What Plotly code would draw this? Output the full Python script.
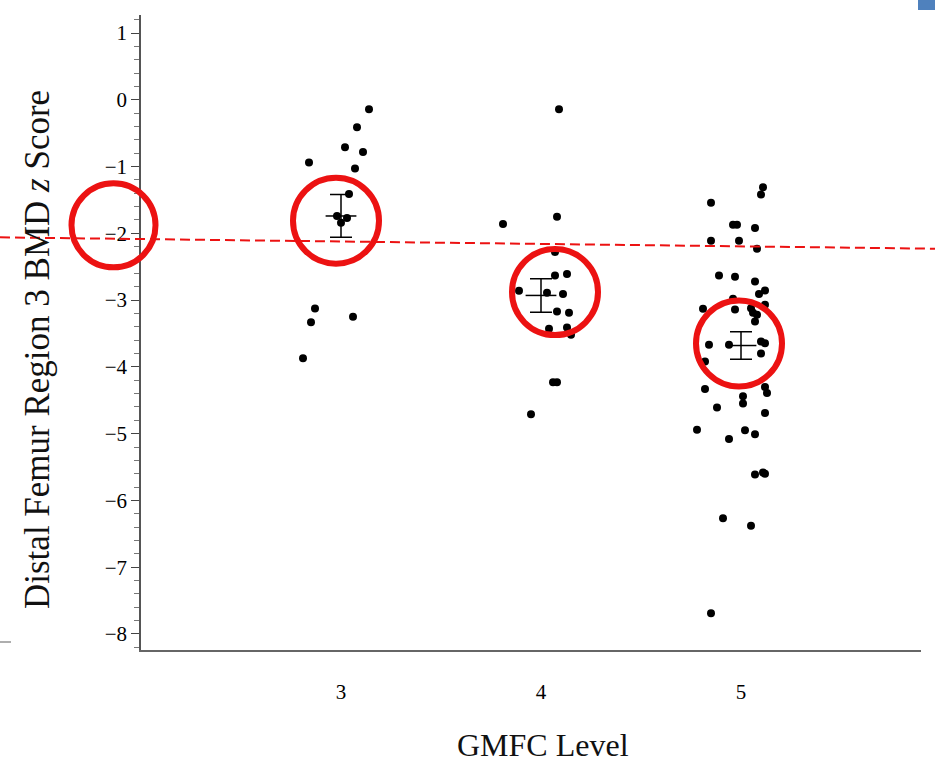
import plotly.graph_objects as go

# ---- data: distal femur region 3 BMD z scores by GMFC level (jittered x) ----
gmfc3_x = [3.14, 3.08, 3.02, 3.11, 2.84, 3.07, 3.04, 2.98, 3.00, 3.03, 2.87, 2.85, 3.06, 2.81]
gmfc3_z = [-0.14, -0.41, -0.71, -0.78, -0.94, -1.03, -1.41, -1.74, -1.84, -1.77, -3.125, -3.33, -3.25, -3.87]

gmfc4_x = [4.09, 4.08, 3.81, 4.07, 4.07, 4.13, 3.89, 4.03, 4.11, 4.08, 4.14, 4.04, 4.13, 4.15, 4.06, 4.08, 3.95]
gmfc4_z = [-0.14, -1.75, -1.86, -2.28, -2.63, -2.61, -2.86, -2.89, -2.91, -3.17, -3.19, -3.43, -3.41, -3.52,
           -4.23, -4.23, -4.71]

gmfc5_x = [5.11, 5.10, 4.85, 4.96, 4.98, 5.07, 4.85, 4.99, 5.08, 4.89, 4.97, 5.07, 5.12, 5.09, 4.96,
           5.12, 4.81, 4.97, 5.05, 5.06, 5.08, 5.07, 4.84, 4.94, 5.10, 5.12, 5.10, 4.82, 4.82, 5.12,
           5.13, 5.01, 5.01, 4.88, 5.12, 4.78, 4.94, 5.02, 5.07, 5.07, 5.11, 5.12, 4.91, 5.05, 4.85]
gmfc5_z = [-1.31, -1.42, -1.54, -1.87, -1.87, -1.92, -2.11, -2.11, -2.23, -2.63, -2.65, -2.72, -2.855, -2.91, -2.98,
           -3.07, -3.13, -3.14, -3.12, -3.19, -3.22, -3.32, -3.67, -3.67, -3.62, -3.645, -3.80, -3.92, -4.33, -4.30,
           -4.39, -4.44, -4.55, -4.61, -4.69, -4.94, -5.08, -4.95, -5.01, -5.61, -5.58, -5.60, -6.265, -6.38, -7.69]

levels = [3, 4, 5]
level_labels = ["3", "4", "5"]
group_mean = [-1.74, -2.93, -3.68]
group_se = [0.32, 0.25, 0.205]

# hand-drawn overlay: highlighted spots (x level, z) and sloped reference line near z = -2
highlight_x = [2.975, 4.07, 4.99]
highlight_z = [-1.81, -2.88, -3.65]
axis_highlight_z = -1.88
ref_line_z = [-2.06, -2.23]

y_ticks = [1, 0, -1, -2, -3, -4, -5, -6, -7, -8]

# ---- layout geometry (pixels) ----
W, H = 935, 764
L, R, T, B = 141, 14, 15, 114
PW, PH = W - L - R, H - T - B


def px_x(px):
    return (px - L) / PW


def px_y(py):
    return (H - B - py) / PH


RED = "#ec1212"
SERIF = "Liberation Serif"

fig = go.Figure()

for xs, zs in [(gmfc3_x, gmfc3_z), (gmfc4_x, gmfc4_z), (gmfc5_x, gmfc5_z)]:
    fig.add_trace(go.Scatter(
        x=xs, y=zs, mode="markers",
        marker=dict(color="black", size=8, line=dict(width=0)),
        hoverinfo="x+y",
    ))

# group means with standard-error bars
fig.add_trace(go.Scatter(
    x=levels, y=group_mean, mode="markers",
    marker=dict(symbol="line-ew", size=22, color="black", line=dict(width=1.5, color="black")),
    error_y=dict(type="data", array=group_se, visible=True, width=11, thickness=1.5, color="black"),
))

shapes = []
# red dashed line across the whole page
shapes.append(dict(type="line", xref="paper", yref="y",
                   x0=px_x(0), x1=px_x(W), y0=ref_line_z[0], y1=ref_line_z[1],
                   line=dict(color=RED, width=2, dash="10px,5px"), layer="above"))
# red circles around the group means
for hx, hz in zip(highlight_x, highlight_z):
    shapes.append(dict(type="circle", xref="x", yref="y",
                       xsizemode="pixel", ysizemode="pixel",
                       xanchor=hx, yanchor=hz, x0=-43, x1=43, y0=-43, y1=43,
                       line=dict(color=RED, width=6), layer="above"))
# red circle around the -2 tick label
shapes.append(dict(type="circle", xref="paper", yref="y",
                   xsizemode="pixel", ysizemode="pixel",
                   xanchor=px_x(113.5), yanchor=axis_highlight_z, x0=-42, x1=42, y0=-42, y1=42,
                   line=dict(color=RED, width=6), layer="above"))
# small blue block in the top-right corner
shapes.append(dict(type="rect", xref="paper", yref="paper",
                   x0=px_x(918), x1=px_x(W), y0=px_y(10), y1=px_y(0),
                   fillcolor="#4f81bd", line=dict(width=0), layer="above"))
# short gray stub at the left edge
shapes.append(dict(type="line", xref="paper", yref="paper",
                   x0=px_x(0), x1=px_x(11), y0=px_y(642), y1=px_y(642),
                   line=dict(color="#777", width=1.2)))

fig.update_layout(
    width=W, height=H,
    margin=dict(l=L, r=R, t=T, b=B, pad=0),
    paper_bgcolor="white", plot_bgcolor="white",
    showlegend=False,
    shapes=shapes,
    font=dict(family=SERIF, color="black"),
    xaxis=dict(
        range=[2, 5.9], tickmode="array", tickvals=levels, ticktext=level_labels,
        showgrid=False, zeroline=False, showline=True, linecolor="#666", linewidth=1.5,
        ticks="", tickfont=dict(family=SERIF, size=21, color="#000"), ticklabelstandoff=22,
    ),
    yaxis=dict(
        range=[-8.24, 1.27], tickmode="array", tickvals=y_ticks,
        showgrid=False, zeroline=False, showline=True, linecolor="#555", linewidth=1.5,
        ticks="outside", ticklen=8, tickwidth=1.3, tickcolor="#444",
        minor=dict(dtick=0.2, tick0=0, ticks="outside", ticklen=5, tickwidth=1, tickcolor="#777", showgrid=False),
        tickfont=dict(family=SERIF, size=21, color="#000"),
    ),
    annotations=[
        dict(text="Distal Femur Region 3 BMD <i>z</i> Score", textangle=-90,
             xref="paper", yref="paper", x=px_x(38), y=px_y(350),
             xanchor="center", yanchor="middle", showarrow=False,
             font=dict(family=SERIF, size=35, color="#111")),
        dict(text="GMFC Level", xref="paper", yref="paper", x=px_x(543), y=px_y(745),
             xanchor="center", yanchor="middle", showarrow=False,
             font=dict(family=SERIF, size=32, color="#111")),
    ],
)

fig.write_html("out.html")
